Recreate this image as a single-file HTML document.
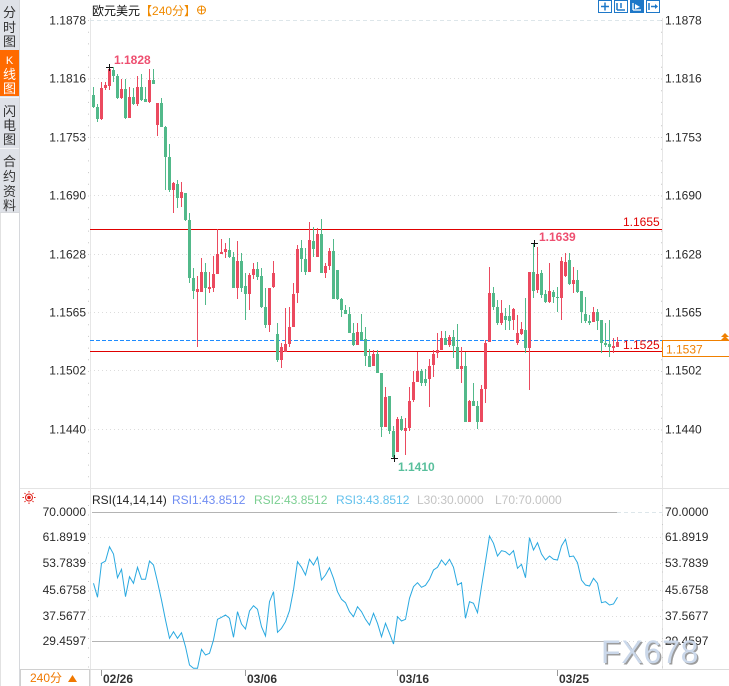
<!DOCTYPE html>
<html><head><meta charset="utf-8">
<style>
html,body{margin:0;padding:0;background:#fff;}
body{width:729px;height:686px;overflow:hidden;}
svg{display:block;font-family:"Liberation Sans","Noto Sans CJK SC",sans-serif;}
</style></head><body>
<svg id="s" width="729" height="686" viewBox="0 0 729 686" xmlns="http://www.w3.org/2000/svg">
<rect x="0" y="0" width="729" height="686" fill="#fff"/>
<!-- sidebar -->
<rect x="0" y="0" width="19" height="212" fill="#dfe2e8"/>
<rect x="0" y="50" width="19" height="46" fill="#ff6a00"/>
<line x1="0" y1="97.5" x2="19" y2="97.5" stroke="#f4f5f7"/>
<line x1="0" y1="148.5" x2="19" y2="148.5" stroke="#f4f5f7"/>
<line x1="19.5" y1="0" x2="19.5" y2="686" stroke="#d6d8dc"/>
<line x1="0.5" y1="212" x2="0.5" y2="686" stroke="#e2e2e2"/>
<line x1="0" y1="212.5" x2="19" y2="212.5" stroke="#d6d8dc"/>
<g font-size="13" fill="#333" text-anchor="middle">
<text x="9.5" y="17">分</text><text x="9.5" y="32">时</text><text x="9.5" y="46">图</text>
<text x="9.5" y="64" fill="#fff" font-size="11">K</text><text x="9.5" y="79" fill="#fff">线</text><text x="9.5" y="93" fill="#fff">图</text>
<text x="9.5" y="116">闪</text><text x="9.5" y="130">电</text><text x="9.5" y="144">图</text>
<text x="9.5" y="166">合</text><text x="9.5" y="181">约</text><text x="9.5" y="196">资</text><text x="9.5" y="210">料</text>
</g>
<!-- title -->
<text x="92" y="15" font-size="12" fill="#111">欧元美元<tspan fill="#f08a00">【240分】</tspan></text>
<g stroke="#f08a00" fill="none"><circle cx="201.5" cy="10" r="4"/><line x1="197.5" y1="10" x2="205.5" y2="10"/><line x1="201.5" y1="6" x2="201.5" y2="14"/></g>
<!-- toolbar -->
<g stroke="#1e78c8" fill="#fff">
<rect x="598.5" y="0.5" width="13" height="12"/>
<rect x="614.5" y="0.5" width="13" height="12"/>
<rect x="630.5" y="0.5" width="13" height="12" fill="#1e78c8"/>
<rect x="646.5" y="0.5" width="13" height="12"/>
</g>
<g stroke="#1e78c8" stroke-width="1.5" fill="none">
<line x1="601" y1="6.5" x2="609" y2="6.5"/><line x1="605" y1="2.5" x2="605" y2="10.5"/>
<line x1="617" y1="3" x2="617" y2="10"/><line x1="617" y1="10" x2="625" y2="10"/><line x1="621" y1="3" x2="621" y2="8"/>
<line x1="649" y1="3" x2="649" y2="10"/><line x1="651" y1="6.5" x2="656" y2="6.5"/>
</g>
<polygon points="655,4 658,6.5 655,9" fill="#1e78c8"/>
<g stroke="#fff" stroke-width="1.3" fill="none"><line x1="633" y1="3" x2="633" y2="10"/><line x1="633" y1="10" x2="641" y2="10"/></g>
<polygon points="635,4 640,7 635,9" fill="#fff"/>
<!-- axis lines -->
<line x1="90.5" y1="18" x2="90.5" y2="686" stroke="#e6e6e6"/>
<line x1="662.5" y1="18" x2="662.5" y2="669" stroke="#e6e6e6"/>
<line x1="88.5" y1="20" x2="88.5" y2="486" stroke="#c8c8c8" stroke-dasharray="1 10.7"/>
<line x1="661.5" y1="20" x2="661.5" y2="486" stroke="#c8c8c8" stroke-dasharray="1 10.7"/>
<line x1="88.5" y1="505" x2="88.5" y2="668" stroke="#c8c8c8" stroke-dasharray="1 8.5"/>
<line x1="662.5" y1="505" x2="662.5" y2="668" stroke="#c8c8c8" stroke-dasharray="1 8.5"/>
<!-- main grid -->
<line x1="90" y1="20.5" x2="662" y2="20.5" stroke="#dde6ea" stroke-dasharray="4 3"/>
<g stroke="#dcdcdc" stroke-dasharray="1 3">
<line x1="90" y1="78.5" x2="662" y2="78.5"/>
<line x1="90" y1="137.5" x2="662" y2="137.5"/>
<line x1="90" y1="195.5" x2="662" y2="195.5"/>
<line x1="90" y1="254.5" x2="662" y2="254.5"/>
<line x1="90" y1="312.5" x2="662" y2="312.5"/>
<line x1="90" y1="370.5" x2="662" y2="370.5"/>
<line x1="90" y1="429.5" x2="662" y2="429.5"/>
</g>
<g font-size="12" fill="#2a2a2a">
<g text-anchor="end">
<text x="86" y="24.5">1.1878</text><text x="86" y="82.5">1.1816</text><text x="86" y="141.5">1.1753</text><text x="86" y="199.5">1.1690</text>
<text x="86" y="258.5">1.1628</text><text x="86" y="316.5">1.1565</text><text x="86" y="374.5">1.1502</text><text x="86" y="433.5">1.1440</text>
</g>
<text x="665" y="24.5">1.1878</text><text x="665" y="82.5">1.1816</text><text x="665" y="141.5">1.1753</text><text x="665" y="199.5">1.1690</text>
<text x="665" y="258.5">1.1628</text><text x="665" y="316.5">1.1565</text><text x="665" y="374.5">1.1502</text><text x="665" y="433.5">1.1440</text>
</g>
<!-- horizontal marker lines -->
<line x1="90" y1="229.5" x2="662" y2="229.5" stroke="#e00000"/>
<line x1="90" y1="351.5" x2="662" y2="351.5" stroke="#e00000"/>
<line x1="90" y1="340.5" x2="662" y2="340.5" stroke="#1e8cff" stroke-dasharray="4 2"/>
<g id="candles"></g>
<!-- extreme labels -->
<g stroke="#111" stroke-width="1">
<line x1="106" y1="67.5" x2="113" y2="67.5"/><line x1="109.5" y1="64" x2="109.5" y2="71"/>
<line x1="531" y1="243.5" x2="538" y2="243.5"/><line x1="534.5" y1="240" x2="534.5" y2="247"/>
<line x1="391" y1="458.5" x2="398" y2="458.5"/><line x1="394.5" y1="455" x2="394.5" y2="462"/>
</g>
<g font-size="12" font-weight="bold">
<text x="114" y="64" fill="#ee4f70">1.1828</text>
<text x="539" y="241" fill="#ee4f70">1.1639</text>
<text x="398" y="471" fill="#58bf9c">1.1410</text>
<text x="623" y="226" fill="#e00000" font-weight="normal">1.1655</text>
<text x="623" y="349" fill="#e00000" font-weight="normal">1.1525</text>
</g>
<rect x="662.5" y="340.5" width="67" height="16" fill="#fff" stroke="#f08000"/>
<text x="666" y="353.5" font-size="12" fill="#f08000">1.1537</text>
<g fill="#f08000"><polygon points="725,333 729,337 721,337"/><polygon points="725,336 729,340 721,340"/></g>
<!-- separator -->
<line x1="20" y1="488.5" x2="729" y2="488.5" stroke="#e4e4e4"/>
<!-- RSI panel -->
<g stroke="#e0201a" fill="none"><circle cx="29" cy="497.5" r="3.5"/><g stroke-width="1">
<line x1="29" y1="491" x2="29" y2="492.5"/><line x1="29" y1="502.5" x2="29" y2="504"/><line x1="22.5" y1="497.5" x2="24" y2="497.5"/><line x1="34" y1="497.5" x2="35.5" y2="497.5"/>
<line x1="24.5" y1="493" x2="25.5" y2="494"/><line x1="33.5" y1="493" x2="32.5" y2="494"/><line x1="24.5" y1="502" x2="25.5" y2="501"/><line x1="33.5" y1="502" x2="32.5" y2="501"/></g></g>
<circle cx="29" cy="497.5" r="1.8" fill="#e0201a"/>
<g font-size="12">
<text x="92" y="504" fill="#222">RSI(14,14,14)</text>
<text x="172" y="504" fill="#6f8cf2">RSI1:43.8512</text>
<text x="254" y="504" fill="#7ccf92">RSI2:43.8512</text>
<text x="336" y="504" fill="#63c1ec">RSI3:43.8512</text>
<text x="417" y="504" fill="#c3c3c3">L30:30.0000</text>
<text x="495" y="504" fill="#c3c3c3">L70:70.0000</text>
</g>
<g stroke="#dcdcdc" stroke-dasharray="1 3">
<line x1="92" y1="537.5" x2="662" y2="537.5"/>
<line x1="92" y1="563.5" x2="662" y2="563.5"/>
<line x1="92" y1="590.5" x2="662" y2="590.5"/>
<line x1="92" y1="616.5" x2="662" y2="616.5"/>
<line x1="617" y1="641.5" x2="662" y2="641.5"/>
</g>
<line x1="617" y1="512.5" x2="662" y2="512.5" stroke="#dde6ea" stroke-dasharray="4 3"/>
<line x1="92" y1="512.5" x2="617" y2="512.5" stroke="#b4b4b4"/>
<line x1="92" y1="641.5" x2="617" y2="641.5" stroke="#b4b4b4"/>
<g font-size="12" fill="#2a2a2a">
<g text-anchor="end">
<text x="86" y="516">70.0000</text><text x="86" y="541">61.8919</text><text x="86" y="567">53.7839</text>
<text x="86" y="594">45.6758</text><text x="86" y="620">37.5677</text><text x="86" y="645">29.4597</text>
</g>
<text x="665" y="516">70.0000</text><text x="665" y="541">61.8919</text><text x="665" y="567">53.7839</text>
<text x="665" y="594">45.6758</text><text x="665" y="620">37.5677</text><text x="665" y="645">29.4597</text>
</g>
<polyline id="rsi" fill="none" stroke="#2aa9e0" stroke-width="1" points=""/>
<!-- watermark -->
<text x="602.5" y="664.5" font-size="32" fill="#7c7c7c" letter-spacing="0.8" opacity="0.75">FX678</text>
<text x="601" y="663" font-size="32" fill="#cbd8ea" letter-spacing="0.8">FX678</text>
<!-- x axis -->
<line x1="20" y1="669.5" x2="729" y2="669.5" stroke="#dcdcdc"/>
<rect x="20.5" y="669.5" width="69" height="17" fill="#fff" stroke="#d0d0d0"/>
<text x="30" y="682" font-size="12" fill="#f07800">240分</text>
<polygon points="72.5,675 77,682 68,682" fill="#f07800"/>
<g stroke="#999"><line x1="101.5" y1="670" x2="101.5" y2="676"/><line x1="245.5" y1="670" x2="245.5" y2="676"/><line x1="397.5" y1="670" x2="397.5" y2="676"/><line x1="557.5" y1="670" x2="557.5" y2="676"/></g>
<g font-size="12" font-weight="bold" fill="#333">
<text x="103" y="683">02/26</text><text x="247" y="683">03/06</text><text x="399" y="683">03/16</text><text x="559" y="683">03/25</text>
</g>
</svg>
<script>
(function(){
var C=[
['G',95,107,87,108],['G',107,119,104,122],['R',88,119,82,120],['R',85,88,82,90],['R',69,86,67,90],
['G',70,76,67,82],['G',76,98,74,99],['R',89,98,79,99],['G',89,118,79,119],['R',97,118,87,118],
['G',97,104,88,105],['R',87,104,76,106],['G',87,100,74,101],['G',99,102,87,102],['R',80,102,69,103],
['G',80,84,69,84],['R',103,125,103,136],['G',103,127,98,127],['G',127,157,126,190],['G',157,190,144,192],
['R',183,190,182,213],['G',184,198,180,208],['R',192,198,182,207],['G',193,220,193,221],['G',220,278,213,283],
['G',278,291,268,299],['R',289,292,276,347],['R',272,292,258,292],['G',272,288,263,305],['R',287,289,272,293],
['R',274,288,256,292],['R',254,274,229,274],['R',252,254,239,254],['R',249,252,243,258],['G',250,257,238,258],
['G',257,288,252,288],['R',261,288,241,299],['G',261,288,253,292],['G',286,294,273,320],['R',275,294,273,310],
['R',269,275,263,279],['G',269,277,262,280],['G',276,307,268,308],['G',307,325,288,328],['R',288,325,288,332],
['R',273,287,261,288],['G',334,360,323,362],['R',347,360,343,368],['R',344,352,308,352],['R',327,344,307,347],
['R',294,327,283,327],['R',249,293,245,303],['G',248,259,240,272],['G',259,272,248,275],['R',240,272,222,272],
['G',241,249,227,257],['R',234,257,228,257],['G',234,273,219,273],['R',266,273,263,278],['R',251,266,248,270],
['G',251,299,239,299],['G',270,299,270,300],['G',299,310,298,317],['G',310,314,305,314],['G',314,333,307,333],
['G',333,345,323,346],['R',332,345,323,345],['G',332,340,314,340],['G',339,356,327,366],['G',356,367,349,367],
['R',354,366,350,366],['G',354,373,350,373],['G',373,427,373,437],['R',397,427,387,427],['G',396,431,396,434],
['G',431,457,426,458],['R',419,452,417,452],['G',419,430,416,431],['R',428,431,418,455],['R',401,428,387,431],
['R',382,400,371,402],['R',371,382,352,382],['G',371,383,369,386],['G',379,383,369,386],['R',366,379,359,407],
['R',354,365,350,377],['R',350,353,333,358],['R',338,350,331,350],['G',338,345,331,345],['R',337,345,335,347],
['G',337,346,330,358],['G',347,369,324,369],['R',366,369,347,383],['G',366,422,352,422],['R',401,422,400,422],
['G',401,406,383,406],['G',406,422,401,429],['R',389,422,385,422],['R',343,389,340,403],['R',293,342,267,342],
['G',293,307,287,310],['G',307,323,300,325],['R',313,323,300,325],['G',316,320,308,330],['G',316,321,305,330],
['R',309,320,308,330],['R',333,343,315,345],['R',329,334,322,335],['G',330,348,298,353],['R',272,348,272,390],
['G',272,291,243,298],['R',274,290,247,293],['G',273,295,270,298],['G',294,302,290,303],['R',291,302,263,303],
['G',292,297,290,303],['G',297,298,287,312],['R',261,298,257,320],['R',262,276,253,277],['G',260,284,253,285],
['R',280,284,267,293],['G',280,292,270,293],['G',291,312,291,323],['G',314,321,297,323],['G',321,323,315,325],
['R',312,322,307,322],['G',312,321,309,330],['G',320,343,320,353],['G',343,345,323,347],['G',344,347,320,357],
['R',346,348,338,353],['R',342,347,337,347]];
var R=[583.3,597.3,563.3,561,546.7,554,577.7,569.3,596.7,576.7,583.3,567.3,579.3,579.3,561,565,581.7,600,620,638.3,
631.7,638.3,632.7,646.7,665,668.3,668.3,649.3,655,653.3,640,619.3,617.3,615,618.3,637.3,611.7,624,629,611,
605.7,609.3,626.7,636,601.7,591.7,632.3,628.3,621.7,610.7,590,561.7,567.3,575,559.3,565,557.3,580,575,567.7,
578.3,591.7,599.3,602.7,611.7,616.7,606.7,611.7,619.3,625,613.3,623.3,636.7,623.3,633.3,644,616.7,621,619.3,598.3,
586.7,582.7,587.3,585.3,579.3,570,567.3,560,565,559.3,567.3,585,582.7,618.3,601.7,603.3,612.7,586.7,561.7,536,
543.3,556,550.7,551.7,555,550.7,568.3,564.3,577.7,537.7,550,542.7,554,560,556,559.3,560,546,539.3,556.7,
556,562.7,580,585,586,578.3,583.3,602.7,601.7,605,604,597.3];
var ns='http://www.w3.org/2000/svg';
var g=document.getElementById('candles');
var pr='',pg='';
for(var i=0;i<C.length;i++){
 var c=C[i],x=93+4*i;
 var bh=Math.max(1,c[2]-c[1]);var wh=Math.max(1,c[4]-c[3]);
 var d='M'+x+' '+c[3]+'h1v'+wh+'h-1zM'+(x-1)+' '+c[1]+'h3v'+bh+'h-3z';
 if(c[0]=='R')pr+=d;else pg+=d;
}
var p1=document.createElementNS(ns,'path');p1.setAttribute('d',pr);p1.setAttribute('fill','#eb4a5f');g.appendChild(p1);
var p2=document.createElementNS(ns,'path');p2.setAttribute('d',pg);p2.setAttribute('fill','#52b98a');g.appendChild(p2);
var pts=[];
for(var j=0;j<R.length;j++){pts.push((93.5+4*j)+','+R[j]);}
document.getElementById('rsi').setAttribute('points',pts.join(' '));
})();
</script>
</body></html>
